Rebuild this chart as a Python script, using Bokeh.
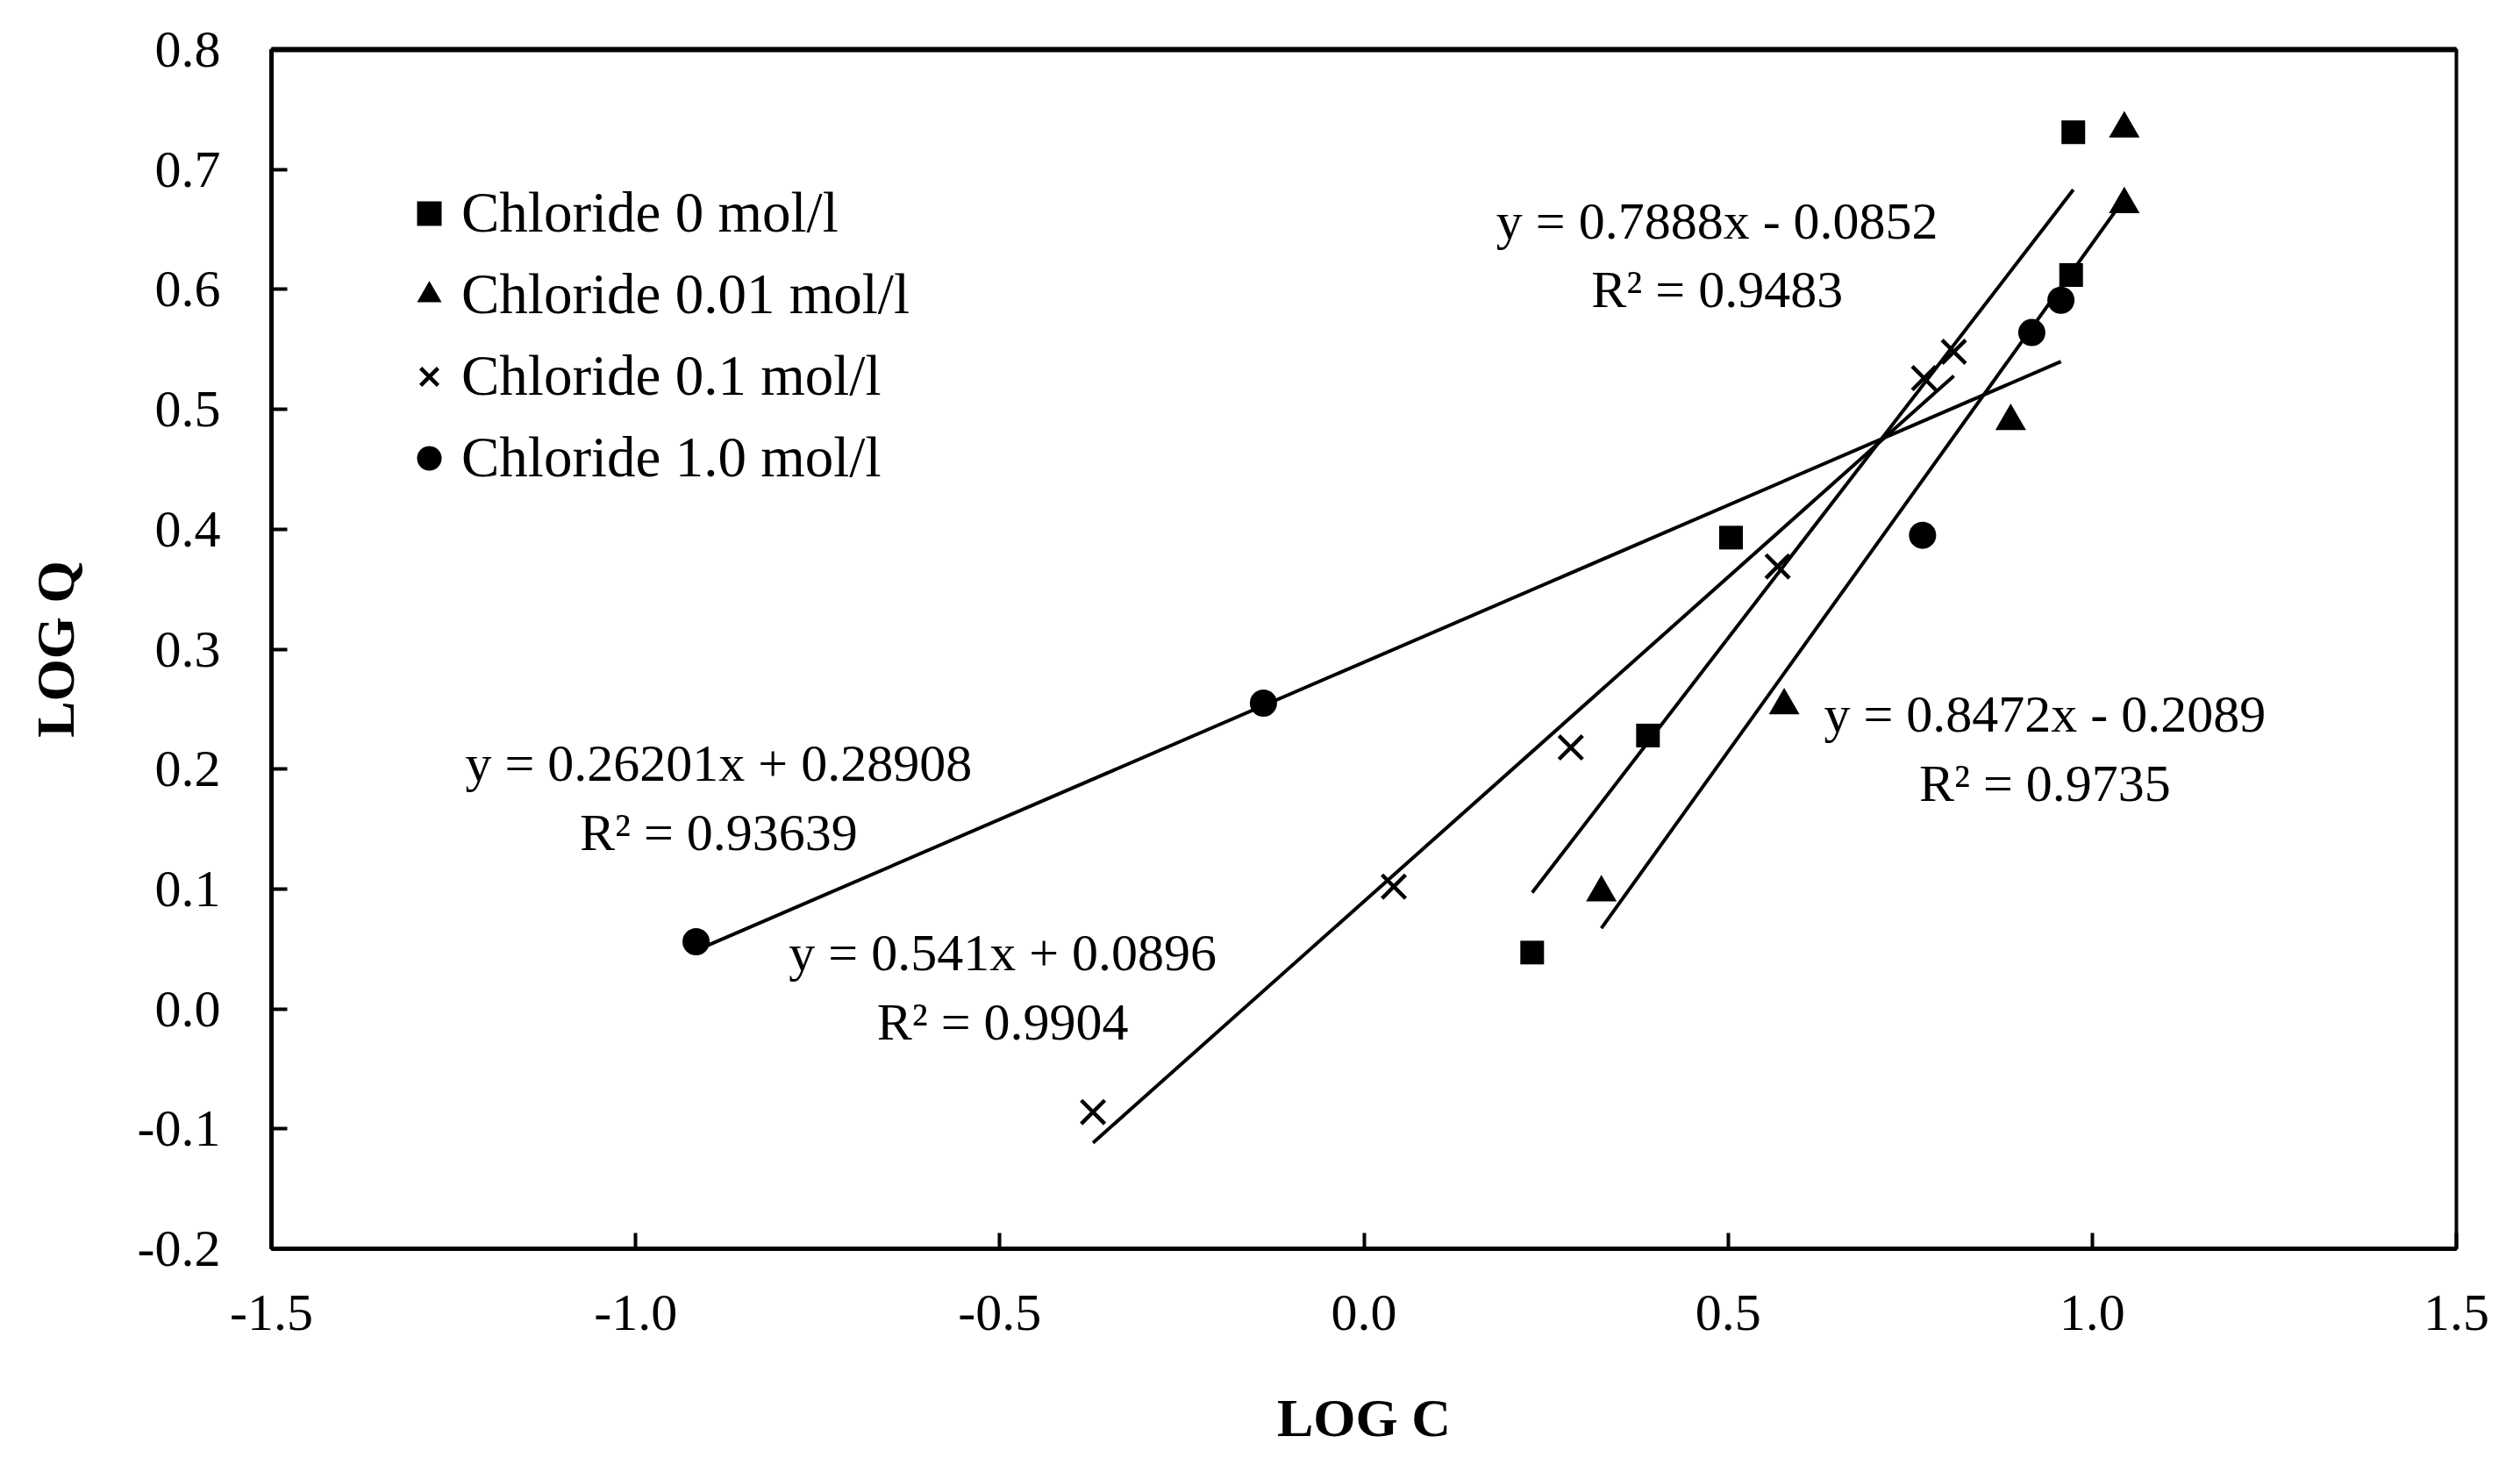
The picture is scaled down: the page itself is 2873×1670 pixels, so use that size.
from bokeh.plotting import figure
from bokeh.models import (Range1d, FixedTicker, NumeralTickFormatter, LinearAxis,
                          Legend, LegendItem)
from bokeh.core.properties import value
from bokeh.embed import file_html
from bokeh.resources import INLINE

# ---- data ----
series_names = ["Chloride 0 mol/l", "Chloride 0.01 mol/l",
                "Chloride 0.1 mol/l", "Chloride 1.0 mol/l"]

sq_x = [0.231, 0.390, 0.504, 0.971, 0.974]
sq_y = [0.047, 0.228, 0.393, 0.612, 0.731]

tri_x = [0.326, 0.577, 0.888, 1.044, 1.044]
tri_y = [0.097, 0.253, 0.490, 0.671, 0.734]

cr_x = [-0.372, 0.041, 0.284, 0.568, 0.769, 0.810]
cr_y = [-0.086, 0.102, 0.218, 0.369, 0.526, 0.548]

ci_x = [-0.917, -0.138, 0.767, 0.917, 0.957]
ci_y = [0.056, 0.255, 0.395, 0.564, 0.591]

# linear trend lines (slope, intercept) for each series
fit_slopes = [0.7888, 0.8472, 0.541, 0.26201]
fit_intercepts = [-0.0852, -0.2089, 0.0896, 0.28908]

# trend-line equation labels
eq_text = ["y = 0.7888x - 0.0852", "R\u00b2 = 0.9483",
           "y = 0.8472x - 0.2089", "R\u00b2 = 0.9735",
           "y = 0.541x + 0.0896", "R\u00b2 = 0.9904",
           "y = 0.26201x + 0.28908", "R\u00b2 = 0.93639"]
eq_x = [0.485, 0.485, 0.935, 0.935, -0.496, -0.496, -0.886, -0.886]
eq_y = [0.657, 0.600, 0.246, 0.188, 0.047, -0.011, 0.205, 0.147]

x_ticks = [-1.5, -1.0, -0.5, 0.0, 0.5, 1.0, 1.5]
y_ticks = [-0.2, -0.1, 0.0, 0.1, 0.2, 0.3, 0.4, 0.5, 0.6, 0.7, 0.8]

FONT = "Liberation Serif"

p = figure(width=2857, height=1654, output_backend="svg", toolbar_location=None,
           x_range=Range1d(-1.5, 1.5), y_range=Range1d(-0.2, 0.8),
           min_border_left=309, min_border_right=57, min_border_top=56,
           min_border_bottom=231, x_axis_label="LOG C", y_axis_label="LOG Q",
           background_fill_color="white", border_fill_color="white")
p.grid.visible = False
p.outline_line_color = "black"
p.outline_line_width = 4
p.outline_line_alpha = 1.0

for ax in (p.xaxis[0], p.yaxis[0]):
    ax.axis_line_width = 5
    ax.axis_line_color = "black"
    ax.major_tick_in = 18
    ax.major_tick_out = 0
    ax.major_tick_line_width = 4
    ax.major_tick_line_color = "black"
    ax.minor_tick_line_color = None
    ax.major_label_text_font = FONT
    ax.major_label_text_font_size = "60px"
    ax.major_label_text_color = "black"
    ax.axis_label_text_font = FONT
    ax.axis_label_text_font_size = "62px"
    ax.axis_label_text_font_style = "bold"
    ax.axis_label_text_color = "black"
    ax.formatter = NumeralTickFormatter(format="0.0")

p.xaxis[0].ticker = FixedTicker(ticks=x_ticks)
p.yaxis[0].ticker = FixedTicker(ticks=y_ticks)
p.xaxis[0].major_label_standoff = 53
p.yaxis[0].major_label_standoff = 58
p.xaxis[0].axis_label_standoff = 63
p.yaxis[0].axis_label_standoff = 57
p.xaxis[0].axis_label_text_align = "right"

# thick top border line
top_axis = LinearAxis(ticker=FixedTicker(ticks=[]), axis_line_width=6,
                      axis_line_color="black", major_tick_line_color=None,
                      minor_tick_line_color=None, major_label_text_font_size="0px")
p.add_layout(top_axis, "above")

# trend lines
all_x = [sq_x, tri_x, cr_x, ci_x]
for xs, m, b in zip(all_x, fit_slopes, fit_intercepts):
    x0, x1 = min(xs), max(xs)
    p.line([x0, x1], [m * x0 + b, m * x1 + b], line_color="black", line_width=4)

r_sq = p.scatter(sq_x, sq_y, marker="square", size=27, fill_color="black",
                 line_color="black", line_width=0)
r_tri = p.scatter(tri_x, tri_y, marker="triangle", size=35, fill_color="black",
                  line_color="black", line_width=0)
r_cr = p.scatter(cr_x, cr_y, marker="x", size=38, line_color="black", line_width=4.5)
r_ci = p.scatter(ci_x, ci_y, marker="circle", size=31, fill_color="black",
                 line_color="black", line_width=0)

p.text(x=eq_x, y=eq_y, text=eq_text, text_font=value(FONT), text_font_size="60px",
       text_align="center", text_baseline="middle", text_color="black")

legend = Legend(items=[LegendItem(label=n, renderers=[r]) for n, r in
                       zip(series_names, [r_sq, r_tri, r_cr, r_ci])],
                location=(145, 864), padding=0, margin=0, spacing=18,
                glyph_width=70, glyph_height=72, label_height=72,
                label_standoff=2, border_line_color=None,
                background_fill_alpha=0, label_text_font=FONT,
                label_text_font_size="65px", label_text_color="black")
p.add_layout(legend)

open("out.html", "w").write(file_html(p, INLINE))
